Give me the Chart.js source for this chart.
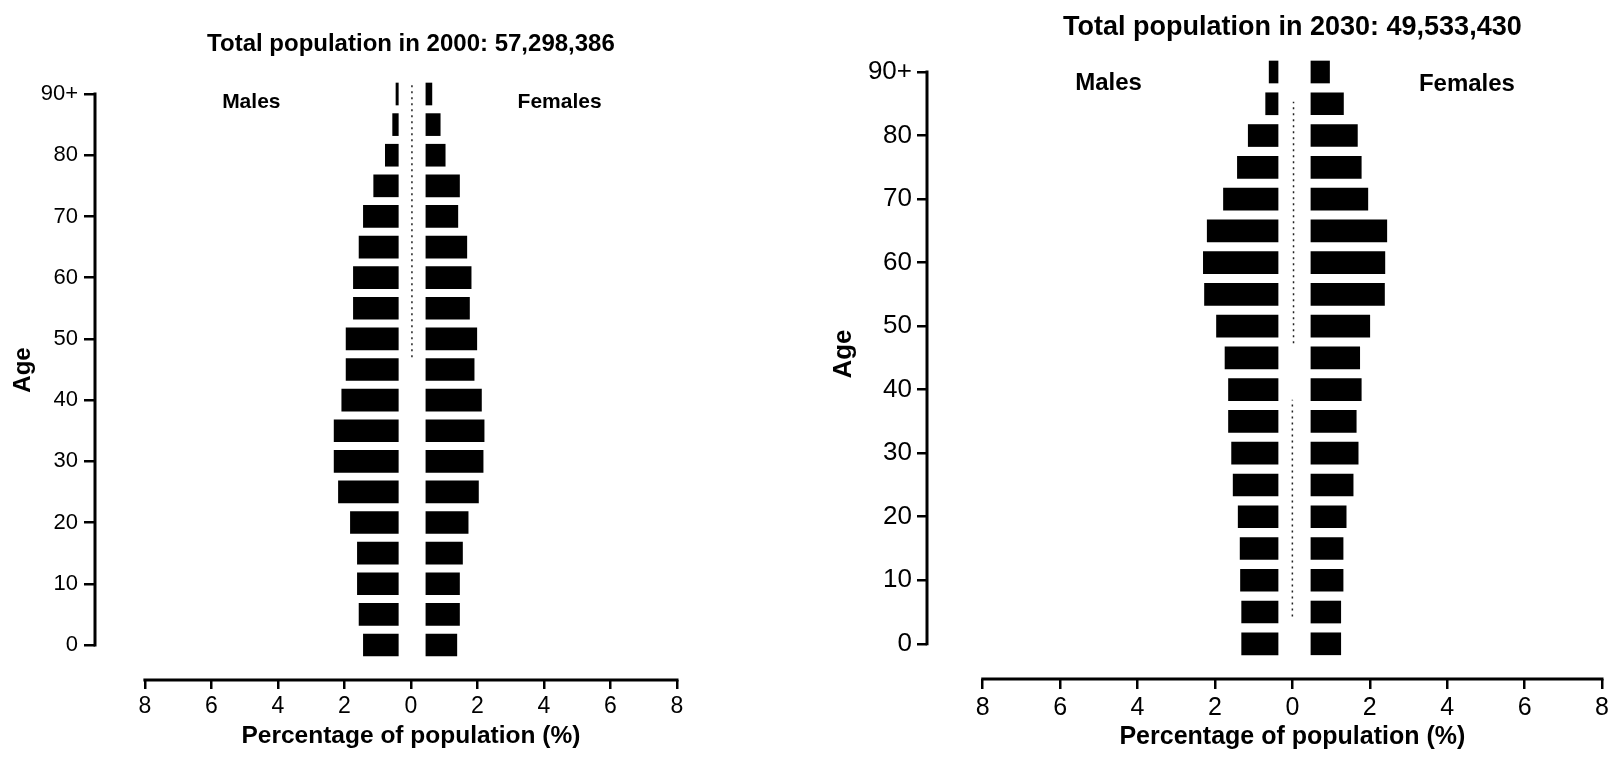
<!DOCTYPE html>
<html>
<head>
<meta charset="utf-8">
<title>Population pyramids, 2000 and 2030</title>
<script src="https://cdn.jsdelivr.net/npm/chart.js@4.4.1/dist/chart.umd.min.js"></script>
<style>
  html, body { margin: 0; padding: 0; background: #fff; }
  body { width: 1610px; height: 758px; position: relative; overflow: hidden; }
  .panel { position: absolute; top: 0; height: 758px; }
  #left { left: 0; width: 800px; }
  #right { left: 800px; width: 810px; }
</style>
</head>
<body>
<div class="panel" id="left"><canvas id="chart2000" width="800" height="758"></canvas></div>
<div class="panel" id="right"><canvas id="chart2030" width="810" height="758"></canvas></div>
<script>
// DATA
// age groups from the bottom bar (0-4) up to the top one (90+)
const ages = [0, 5, 10, 15, 20, 25, 30, 35, 40, 45, 50, 55, 60, 65, 70, 75, 80, 85, 90];
const ageTicks = [0, 10, 20, 30, 40, 50, 60, 70, 80, 90];
const pctTicks = [-8, -6, -4, -2, 0, 2, 4, 6, 8];

// % of population
const males2000 = [1.43, 1.56, 1.61, 1.61, 1.82, 2.18, 2.31, 2.31, 2.08, 1.95,
                   1.95, 1.73, 1.73, 1.56, 1.43, 1.12, 0.77, 0.55, 0.45];
const females2000 = [1.38, 1.46, 1.46, 1.55, 1.72, 2.03, 2.17, 2.20, 2.12, 1.90,
                     1.98, 1.76, 1.81, 1.68, 1.41, 1.46, 1.03, 0.88, 0.63];
const males2030 = [1.31, 1.31, 1.34, 1.35, 1.40, 1.53, 1.57, 1.65, 1.65, 1.74,
                   1.96, 2.27, 2.30, 2.20, 1.78, 1.42, 1.14, 0.69, 0.60];
const females2030 = [1.25, 1.25, 1.31, 1.31, 1.39, 1.57, 1.70, 1.65, 1.78, 1.74,
                     2.00, 2.38, 2.39, 2.44, 1.95, 1.78, 1.68, 1.32, 0.96];

// dotted centre line (age ranges where it is visible)
const centre2000 = [{ x: 0.03, y: 47 }, { x: 0.03, y: 92 }];
const centre2030 = [{ x: 0, y: 4.3 }, { x: 0, y: 38.4 }, { x: null, y: 43 }, { x: 0.03, y: 47.3 }, { x: 0.03, y: 85.3 }];

const title2000 = "Total population in 2000: 57,298,386";
const title2030 = "Total population in 2030: 49,533,430";
const axisTitle = "Percentage of population (%)";

const FONT = "'Liberation Sans', Arial, Helvetica, sans-serif";
Chart.defaults.font.family = FONT;
Chart.defaults.color = "#000";

// axis lines only run between the end ticks, like the printed figure
const axisLines = {
  id: "axisLines",
  afterDraw(chart) {
    const { ctx, chartArea, scales: { x, y } } = chart;
    ctx.save();
    ctx.strokeStyle = "#000";
    ctx.lineWidth = 3;
    ctx.beginPath();
    ctx.moveTo(chartArea.left, y.getPixelForValue(ageTicks[ageTicks.length - 1]) - 1.5);
    ctx.lineTo(chartArea.left, y.getPixelForValue(ageTicks[0]) + 1.5);
    ctx.moveTo(x.getPixelForValue(pctTicks[0]) - 1.5, chartArea.bottom);
    ctx.lineTo(x.getPixelForValue(pctTicks[pctTicks.length - 1]) + 1.5, chartArea.bottom);
    ctx.stroke();
    ctx.restore();
  },
};

// titles and Males / Females labels
const pyramidText = {
  id: "pyramidText",
  afterDraw(chart, args, o) {
    const { ctx, scales: { x, y } } = chart;
    const cx = x.getPixelForValue(0);
    ctx.save();
    ctx.fillStyle = "#000";
    ctx.textAlign = "center";
    ctx.textBaseline = "middle";
    ctx.font = `bold ${o.titleSize}px ${FONT}`;
    ctx.fillText(o.title, cx, o.titleY);
    ctx.font = `bold ${o.sexSize}px ${FONT}`;
    ctx.fillText("Males", x.getPixelForValue(o.males[0]), y.getPixelForValue(o.males[1]));
    ctx.fillText("Females", x.getPixelForValue(o.females[0]), y.getPixelForValue(o.females[1]));
    ctx.font = `bold ${o.axisSize}px ${FONT}`;
    ctx.fillText(axisTitle, cx, o.axisY);
    ctx.font = `bold ${o.ageSize}px ${FONT}`;
    ctx.translate(o.ageX, o.ageY);
    ctx.rotate(-Math.PI / 2);
    ctx.fillText("Age", 0, 0);
    ctx.restore();
  },
};

function pyramid(canvasId, p) {
  const bars = (vals, inner, sign) => vals.map((v, i) => ({ x: [inner, sign * v], y: ages[i] }));
  const barStyle = { backgroundColor: "#000", borderWidth: 0, barThickness: 22, grouped: false, clip: false };
  return new Chart(document.getElementById(canvasId), {
    type: "bar",
    data: {
      datasets: [
        { label: "Males", data: bars(p.males, p.innerM, -1), ...barStyle },
        { label: "Females", data: bars(p.females, p.innerF, 1), ...barStyle },
        {
          type: "line", label: "centre", data: p.centre,
          borderColor: "#222", borderWidth: 1.5, borderDash: [2, 4],
          pointRadius: 0, spanGaps: false, clip: false,
        },
      ],
    },
    options: {
      indexAxis: "y",
      responsive: false,
      animation: false,
      events: [],
      layout: { padding: { top: p.top, right: p.right, left: 0, bottom: 0 } },
      plugins: {
        legend: { display: false },
        tooltip: { enabled: false },
        pyramidText: p.text,
      },
      scales: {
        x: {
          type: "linear",
          min: p.xMin,
          max: 8,
          border: { display: false },
          grid: { drawOnChartArea: false, drawTicks: true, tickLength: p.xTick, lineWidth: 2.5, color: "#000" },
          ticks: { padding: 4, font: { size: p.xFont }, color: "#000", callback: (v) => Math.abs(v) },
          afterBuildTicks: (s) => { s.ticks = pctTicks.map((v) => ({ value: v })); },
          afterFit: (s) => { s.height = 758 - p.bottom; s.paddingLeft = 0; s.paddingRight = 0; },
        },
        y: {
          type: "linear",
          min: p.yMin,
          max: 90,
          offset: false,
          border: { display: false },
          grid: { offset: false, drawOnChartArea: false, drawTicks: true, tickLength: p.yTick, lineWidth: 2.5, color: "#000" },
          ticks: { padding: p.yPad, font: { size: p.yFont }, color: "#000", callback: (v) => (v === 90 ? "90+" : v) },
          afterBuildTicks: (s) => { s.ticks = ageTicks.map((v) => ({ value: v })); },
          afterFit: (s) => { s.width = p.left; s.paddingTop = 0; s.paddingBottom = 0; },
        },
      },
    },
    plugins: [axisLines, pyramidText],
  });
}

pyramid("chart2000", {
  males: males2000, females: females2000, centre: centre2000,
  innerM: -0.38, innerF: 0.45,
  left: 95, right: 123, top: 94, bottom: 680,
  xMin: -9.5, yMin: -5.72,
  xTick: 9, yTick: 11, yPad: 6, xFont: 23, yFont: 22,
  text: {
    title: title2000, titleSize: 24, titleY: 44,
    sexSize: 21, males: [-4.8, 88.6], females: [4.47, 88.6],
    axisSize: 24.5, axisY: 736,
    ageSize: 24, ageX: 23, ageY: 370,
  },
});

pyramid("chart2030", {
  males: males2030, females: females2030, centre: centre2030,
  innerM: -0.37, innerF: 0.48,
  left: 127, right: 8, top: 72, bottom: 679,
  xMin: -9.44, yMin: -5.54,
  xTick: 10, yTick: 10, yPad: 5, xFont: 25, yFont: 26,
  text: {
    title: title2030, titleSize: 27, titleY: 28,
    sexSize: 24, males: [-4.75, 88.2], females: [4.51, 88.1],
    axisSize: 25, axisY: 737,
    ageSize: 26, ageX: 44, ageY: 354,
  },
});
</script>
</body>
</html>
